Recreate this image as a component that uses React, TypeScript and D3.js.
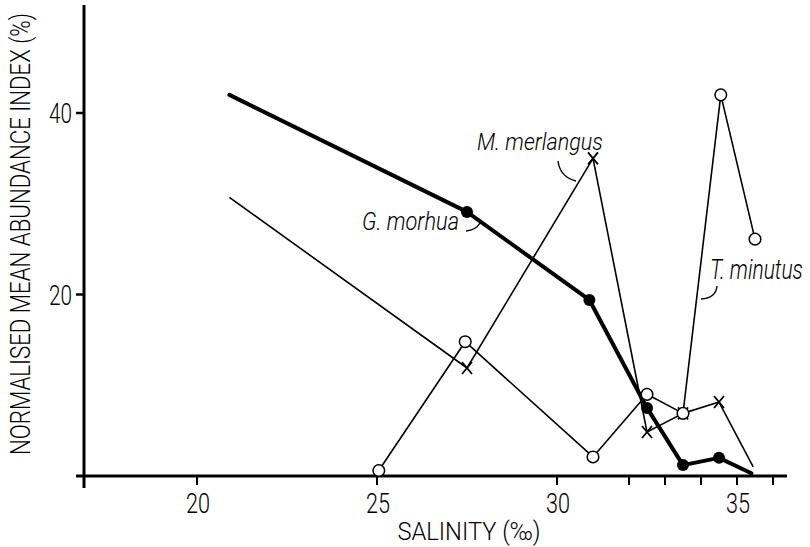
import React from 'react';
import * as d3 from 'd3';

const W = 810;
const H = 547;

// Axis ticks
const xTicks = [20, 25, 30, 32, 33, 34, 35, 36];
const xTickLabels = [20, 25, 30, 35];
const yTicks = [20, 40];

// G. morhua (thick line, filled circles)
const morhuaSalinity = [20.9, 27.5, 30.9, 32.5, 33.5, 34.5, 35.4];
const morhuaIndex = [42.0, 29.1, 19.4, 7.5, 1.2, 2.0, 0.3];
const morhuaMarked = [false, true, true, true, true, true, false];

// M. merlangus (thin line, crosses)
const merlangusSalinity = [20.9, 27.5, 31.0, 32.5, 33.5, 34.5, 35.45];
const merlangusIndex = [30.7, 11.9, 35.0, 4.85, 6.9, 8.15, 1.0];
const merlangusMarked = [false, true, true, true, true, true, false];

// T. minutus (thin line, open circles)
const minutusSalinity = [25.05, 27.45, 31.0, 32.5, 33.5, 34.55, 35.5];
const minutusIndex = [0.6, 14.8, 2.1, 9.0, 6.9, 42.0, 26.1];

const FONT = "Roboto, 'Liberation Sans', 'DejaVu Sans', sans-serif";
const CAP = 0.711;
const WEIGHT = 300;

let ctx: CanvasRenderingContext2D | null = null;
function measure(text: string, italic: boolean, weight: number): number {
  if (!ctx) ctx = document.createElement('canvas').getContext('2d');
  if (!ctx) return text.length * 55;
  ctx.font = `${italic ? 'italic ' : ''}${weight} 100px ${FONT}`;
  return ctx.measureText(text).width;
}

type CTProps = {
  text: string;
  x: number;
  y: number;
  width: number;
  cap: number;
  anchor?: 'start' | 'middle' | 'end';
  italic?: boolean;
  rotate?: number;
};

function CondText({ text, x, y, width, cap, anchor = 'start', italic = false, rotate = 0 }: CTProps) {
  const fs = cap / CAP;
  const natural = (measure(text, italic, WEIGHT) * fs) / 100;
  const sx = natural > 0 ? width / natural : 1;
  return (
    <text
      transform={`translate(${x},${y}) rotate(${rotate}) scale(${sx},1)`}
      textAnchor={anchor}
      fontFamily={FONT}
      fontSize={fs}
      fontWeight={WEIGHT}
      fontStyle={italic ? 'italic' : 'normal'}
      fill="#000"
    >
      {text}
    </text>
  );
}

export default function App() {
  const x = d3.scaleLinear().domain([20, 36]).range([197, 773]);
  const y = d3.scaleLinear().domain([0, 40]).range([476, 113]);
  const line = d3
    .line<[number, number]>()
    .x((d) => x(d[0]))
    .y((d) => y(d[1]));

  const morhua: [number, number][] = morhuaSalinity.map((s, i) => [s, morhuaIndex[i]]);
  const merlangus: [number, number][] = merlangusSalinity.map((s, i) => [s, merlangusIndex[i]]);
  const minutus: [number, number][] = minutusSalinity.map((s, i) => [s, minutusIndex[i]]);

  const axisX0 = 84;
  const axisY0 = y(0);

  return (
    <div style={{ position: 'absolute', left: 0, top: 0 }}>
      <svg width={W} height={H} style={{ display: 'block', background: '#fff' }}>
        {/* axes */}
        <line x1={axisX0} y1={5} x2={axisX0} y2={488} stroke="#000" strokeWidth={3} />
        <line x1={76} y1={axisY0} x2={787} y2={axisY0} stroke="#000" strokeWidth={3.2} />
        {xTicks.map((t) => (
          <line key={'xt' + t} x1={x(t)} x2={x(t)} y1={axisY0} y2={axisY0 + 9} stroke="#000" strokeWidth={2} />
        ))}
        {xTickLabels.map((t) => (
          <CondText key={'xl' + t} text={String(t)} x={x(t) + 1} y={513} width={24} cap={20} anchor="middle" />
        ))}
        {yTicks.map((t) => (
          <g key={'yt' + t}>
            <line x1={axisX0 - 8} x2={axisX0} y1={y(t)} y2={y(t)} stroke="#000" strokeWidth={2.5} />
            <CondText text={String(t)} x={72} y={y(t) + 10} width={23} cap={20} anchor="end" />
          </g>
        ))}
        {/* axis titles */}
        <CondText text="SALINITY (‰)" x={469} y={540} width={143} cap={18} anchor="middle" />
        <CondText
          text="NORMALISED MEAN ABUNDANCE INDEX (%)"
          x={30}
          y={234}
          width={442}
          cap={19}
          anchor="middle"
          rotate={-90}
        />

        {/* series lines */}
        <path d={line(minutus) || ''} fill="none" stroke="#000" strokeWidth={1.6} strokeLinejoin="round" />
        <path d={line(merlangus) || ''} fill="none" stroke="#000" strokeWidth={1.6} strokeLinejoin="round" />
        <path
          d={line(morhua) || ''}
          fill="none"
          stroke="#000"
          strokeWidth={4}
          strokeLinejoin="round"
          strokeLinecap="round"
        />

        {/* markers */}
        {merlangus.map((d, i) =>
          merlangusMarked[i] ? (
            <g key={'mx' + i} transform={`translate(${x(d[0])},${y(d[1])})`} stroke="#000" strokeWidth={1.8}>
              <line x1={-5} y1={-6} x2={5} y2={6} />
              <line x1={5} y1={-6} x2={-5} y2={6} />
            </g>
          ) : null
        )}
        {minutus.map((d, i) => (
          <circle key={'tc' + i} cx={x(d[0])} cy={y(d[1])} r={5.8} fill="#fff" stroke="#000" strokeWidth={1.5} />
        ))}
        {morhua.map((d, i) =>
          morhuaMarked[i] ? <circle key={'gc' + i} cx={x(d[0])} cy={y(d[1])} r={6} fill="#000" /> : null
        )}

        {/* species labels with leaders */}
        <CondText text="M. merlangus" x={477} y={150} width={126} cap={17} italic />
        <path d="M558,161 Q560,177 576,181" fill="none" stroke="#000" strokeWidth={1.4} />
        <CondText text="G. morhua" x={362} y={230} width={97} cap={18} italic />
        <path d="M466,231 Q476,230 480,223" fill="none" stroke="#000" strokeWidth={1.4} />
        <CondText text="T. minutus" x={710} y={279} width={93} cap={19} italic />
        <path d="M717,286 Q716,298 701,299" fill="none" stroke="#000" strokeWidth={1.4} />
      </svg>
    </div>
  );
}
